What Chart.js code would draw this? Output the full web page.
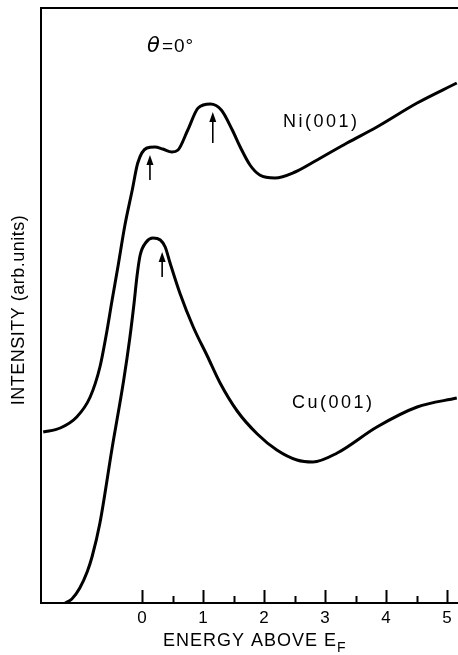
<!DOCTYPE html>
<html>
<head>
<meta charset="utf-8">
<script src="https://cdn.jsdelivr.net/npm/chart.js@4/dist/chart.umd.min.js"></script>
<style>
  html, body { margin: 0; padding: 0; background: #fff; }
  #wrap { width: 458px; height: 655px; }
</style>
</head>
<body>
<div id="wrap"><canvas id="chart" width="458" height="655"></canvas></div>
<script>
// Ni(001) curve, energy above E_F (eV) vs intensity (arb. units)
const niEnergy = [-1.62, -1.34, -1.07, -0.85, -0.69, -0.59, -0.49, -0.39, -0.28, -0.16, -0.07, 0.08, 0.21, 0.34, 0.49, 0.59, 0.75, 0.92, 1.12, 1.30, 1.48, 1.61, 1.77, 1.93, 2.18, 2.51, 2.87, 3.36, 3.85, 4.51, 5.16];
const niIntensity = [1.71, 1.75, 1.86, 2.06, 2.36, 2.67, 3.03, 3.38, 3.78, 4.13, 4.40, 4.55, 4.56, 4.54, 4.51, 4.53, 4.73, 4.95, 4.99, 4.93, 4.73, 4.56, 4.38, 4.28, 4.25, 4.31, 4.43, 4.60, 4.76, 5.00, 5.20];

// Cu(001) curve
const cuEnergy = [-1.26, -1.15, -1.02, -0.90, -0.82, -0.69, -0.49, -0.30, -0.20, -0.13, -0.08, -0.03, 0.07, 0.18, 0.30, 0.38, 0.46, 0.62, 0.84, 1.07, 1.28, 1.56, 1.89, 2.21, 2.54, 2.80, 3.20, 3.85, 4.51, 5.16];
const cuIntensity = [0.00, 0.04, 0.15, 0.31, 0.46, 0.80, 1.55, 2.23, 2.65, 3.00, 3.28, 3.48, 3.61, 3.65, 3.63, 3.56, 3.40, 3.10, 2.76, 2.47, 2.20, 1.92, 1.69, 1.53, 1.43, 1.41, 1.50, 1.76, 1.96, 2.05];

// peak markers (arrows): energy, tail intensity, head intensity
const arrowEnergy = [0.13, 1.16, 0.33];
const arrowTail = [4.23, 4.60, 3.26];
const arrowHead = [4.48, 4.91, 3.51];

// x axis ticks
const tickValues = [0, 0.5, 1, 1.5, 2, 2.5, 3, 3.5, 4, 4.5, 5];

const toPoints = (xs, ys) => xs.map((x, i) => ({ x: x, y: ys[i] }));

const decorations = {
  id: 'decorations',
  afterDraw(chart) {
    const ctx = chart.ctx;
    const area = chart.chartArea;
    const xs = chart.scales.x;
    const ys = chart.scales.y;
    ctx.save();
    ctx.strokeStyle = '#000';
    ctx.fillStyle = '#000';
    ctx.lineWidth = 2;

    // top frame line
    ctx.beginPath();
    ctx.moveTo(area.left, area.top);
    ctx.lineTo(area.right, area.top);
    ctx.stroke();

    // inward tick marks
    tickValues.forEach(v => {
      const px = Math.round(xs.getPixelForValue(v)) + 0.5;
      const len = Number.isInteger(v) ? 13 : 7;
      ctx.beginPath();
      ctx.moveTo(px, area.bottom);
      ctx.lineTo(px, area.bottom - len);
      ctx.stroke();
    });

    // arrows
    ctx.lineWidth = 1.6;
    arrowEnergy.forEach((e, i) => {
      const px = xs.getPixelForValue(e);
      const y1 = ys.getPixelForValue(arrowTail[i]);
      const y2 = ys.getPixelForValue(arrowHead[i]);
      ctx.beginPath();
      ctx.moveTo(px, y1);
      ctx.lineTo(px, y2 + 6);
      ctx.stroke();
      ctx.beginPath();
      ctx.moveTo(px, y2);
      ctx.lineTo(px - 3.5, y2 + 10);
      ctx.lineTo(px + 3.5, y2 + 10);
      ctx.closePath();
      ctx.fill();
    });

    // curve labels
    ctx.textBaseline = 'middle';
    ctx.textAlign = 'left';
    ctx.font = '18px "Liberation Sans", Arial, sans-serif';
    ctx.letterSpacing = '2.5px';
    ctx.fillText('Ni(001)', xs.getPixelForValue(2.31), ys.getPixelForValue(4.81));
    ctx.fillText('Cu(001)', xs.getPixelForValue(2.46), ys.getPixelForValue(2.00));
    ctx.letterSpacing = '1px';
    ctx.font = 'italic 21px "DejaVu Sans", sans-serif';
    const tx = xs.getPixelForValue(0.08);
    const ty = ys.getPixelForValue(5.56);
    ctx.fillText('θ', tx, ty);
    ctx.font = '19px "Liberation Sans", Arial, sans-serif';
    ctx.fillText('=0°', tx + 15, ty);

    // x title with subscript
    ctx.letterSpacing = '1px';
    ctx.font = '18px "Liberation Sans", Arial, sans-serif';
    ctx.textBaseline = 'alphabetic';
    const main = 'ENERGY ABOVE E';
    const w = ctx.measureText(main).width;
    const cx = 250;
    ctx.fillText(main, cx - w / 2, 646);
    ctx.font = '14px "Liberation Sans", Arial, sans-serif';
    ctx.fillText('F', cx + w / 2, 652);

    // y title
    ctx.font = '18px "Liberation Sans", Arial, sans-serif';
    ctx.letterSpacing = '0.5px';
    ctx.textAlign = 'center';
    ctx.textBaseline = 'middle';
    ctx.translate(19, 310);
    ctx.rotate(-Math.PI / 2);
    ctx.fillText('INTENSITY (arb.units)', 0, 0);
    ctx.restore();
  }
};

new Chart(document.getElementById('chart'), {
  type: 'scatter',
  data: {
    datasets: [
      {
        label: 'Ni(001)',
        data: toPoints(niEnergy, niIntensity),
        showLine: true,
        borderColor: '#000',
        borderWidth: 3,
        pointRadius: 0,
        cubicInterpolationMode: 'monotone'
      },
      {
        label: 'Cu(001)',
        data: toPoints(cuEnergy, cuIntensity),
        showLine: true,
        borderColor: '#000',
        borderWidth: 3,
        pointRadius: 0,
        cubicInterpolationMode: 'monotone'
      }
    ]
  },
  options: {
    responsive: false,
    animation: false,
    layout: { padding: { top: 8, right: 0, left: 0, bottom: 0 } },
    plugins: {
      legend: { display: false },
      tooltip: { enabled: false }
    },
    scales: {
      x: {
        type: 'linear',
        min: -1.656,
        max: 5.18,
        afterBuildTicks: s => { s.ticks = tickValues.map(v => ({ value: v })); },
        afterFit: s => { s.height = 52; },
        grid: { display: false },
        border: { display: true, color: '#000', width: 2 },
        ticks: {
          autoSkip: false,
          maxRotation: 0,
          padding: -3,
          color: '#000',
          font: { size: 17, family: '"Liberation Sans", Arial, sans-serif' },
          callback: v => Number.isInteger(v) ? String(v) : ''
        }
      },
      y: {
        min: 0,
        max: 5.95,
        afterFit: s => { s.width = 41; },
        grid: { display: false },
        border: { display: true, color: '#000', width: 2 },
        ticks: { display: false }
      }
    }
  },
  plugins: [decorations]
});
</script>
</body>
</html>
